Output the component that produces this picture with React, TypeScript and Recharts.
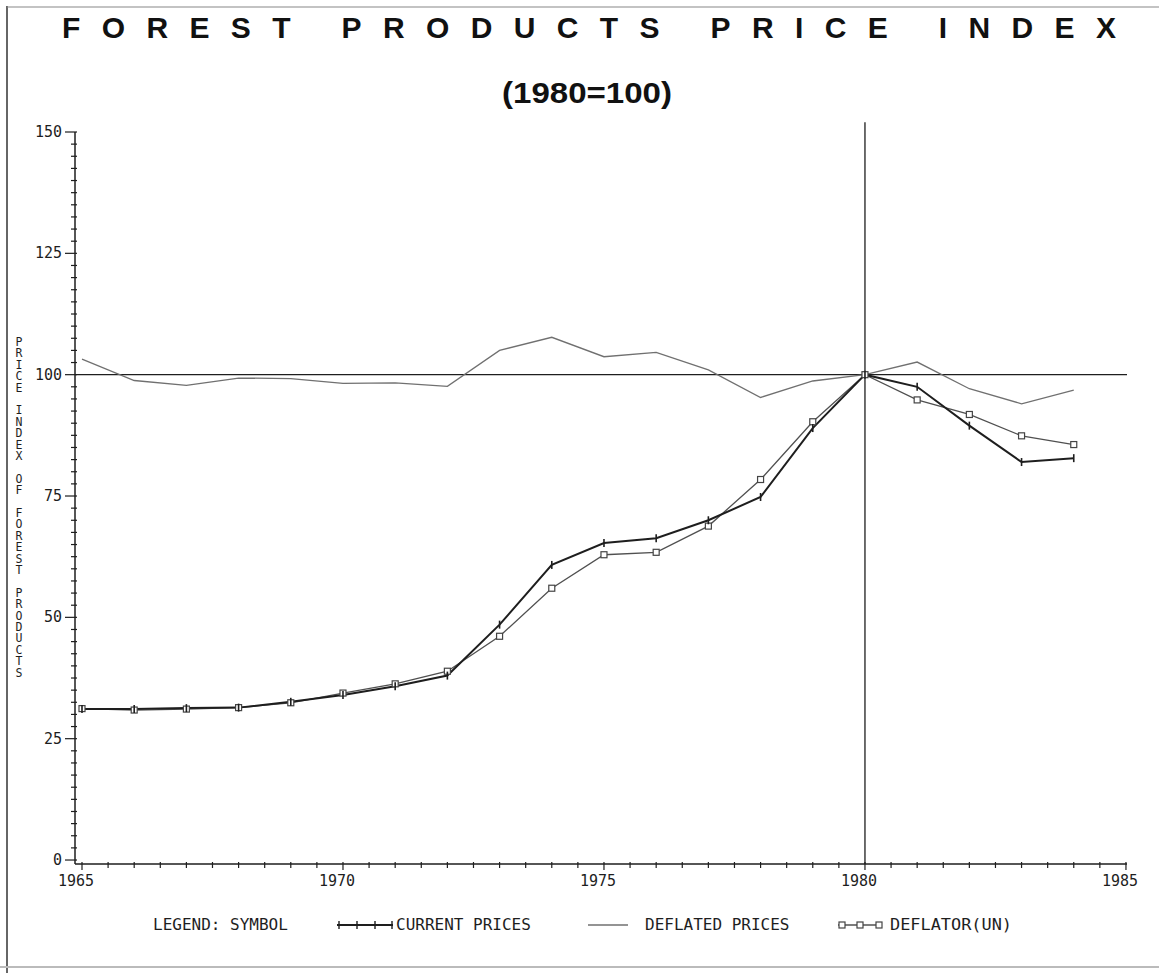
import React from 'react';
import { LineChart, Line, XAxis, YAxis, ReferenceLine } from 'recharts';

// annual values
const years = [1965, 1966, 1967, 1968, 1969, 1970, 1971, 1972, 1973, 1974, 1975, 1976, 1977, 1978, 1979, 1980, 1981, 1982, 1983, 1984];
const currentPrices = [31.1, 31.1, 31.3, 31.4, 32.6, 34.0, 35.8, 38.0, 48.5, 60.8, 65.3, 66.3, 70.0, 74.8, 89.0, 100, 97.5, 89.5, 82.0, 82.8];
const deflatedPrices = [103.2, 98.8, 97.8, 99.3, 99.2, 98.2, 98.3, 97.6, 105.0, 107.7, 103.7, 104.6, 101.0, 95.3, 98.7, 100, 102.6, 97.1, 94.0, 96.8];
const deflatorUN = [31.2, 30.9, 31.1, 31.4, 32.4, 34.4, 36.3, 38.9, 46.1, 56.0, 62.9, 63.4, 68.8, 78.4, 90.3, 100, 94.8, 91.8, 87.4, 85.6];

const yTicks = Array.from({ length: 61 }, (_, i) => i * 2.5);
const xTicks = Array.from({ length: 41 }, (_, i) => 1965 + i * 0.5);

const titleText = 'FOREST PRODUCTS PRICE INDEX';
const subtitleText = '(1980=100)';
const yLabelText = 'PRICE INDEX OF FOREST PRODUCTS';

const data = years.map((year, i) => ({
  year,
  current: currentPrices[i],
  deflated: deflatedPrices[i],
  deflator: deflatorUN[i],
}));

const mono = '"DejaVu Sans Mono", monospace';
const ink = '#1e1e1e';

const YTick = (props: any) => {
  const { x, y, payload } = props;
  const v = payload.value;
  const major = v % 25 === 0;
  return (
    <g>
      <line x1={major ? x - 10 : x - 4} x2={x + 2} y1={y} y2={y} stroke={ink} strokeWidth={1.2} />
      {major && (
        <text x={x - 13} y={y} dy={5} textAnchor="end" fontSize={15} fontFamily={mono} fill={ink}>
          {v}
        </text>
      )}
    </g>
  );
};

const XTick = (props: any) => {
  const { x, y, payload } = props;
  const v = payload.value;
  const major = v % 5 === 0;
  return (
    <g>
      <line x1={x} x2={x} y1={y - 2} y2={y + (major ? 6 : 4)} stroke={ink} strokeWidth={1.2} />
      {major && (
        <text x={x - 6} y={y + 22} textAnchor="middle" fontSize={15} fontFamily={mono} fill={ink}>
          {v}
        </text>
      )}
    </g>
  );
};

const PlusDot = (props: any) => {
  const { cx, cy, index } = props;
  return <line key={'c' + index} x1={cx} x2={cx} y1={cy - 4} y2={cy + 4} stroke={ink} strokeWidth={1.6} />;
};

const SquareDot = (props: any) => {
  const { cx, cy, index } = props;
  return <rect key={'d' + index} x={cx - 3} y={cy - 3} width={6} height={6} fill="#fff" stroke="#444" strokeWidth={1.2} />;
};

export default function App() {
  return (
    <div style={{ position: 'absolute', left: 0, top: 0, width: 1159, height: 973, background: '#fff' }}>
      <LineChart
        width={1159}
        height={973}
        data={data}
        margin={{ top: 132, right: 32, left: 0, bottom: 79 }}
      >
        <XAxis
          dataKey="year"
          type="number"
          domain={[1964.866, 1985.02]}
          ticks={xTicks}
          interval={0}
          tickSize={0}
          tickMargin={0}
          height={30}
          tick={<XTick />}
          axisLine={{ stroke: ink, strokeWidth: 1.5 }}
          tickLine={false}
        />
        <YAxis
          type="number"
          domain={[-0.82, 150]}
          ticks={yTicks}
          interval={0}
          tickSize={0}
          tickMargin={0}
          width={75}
          tick={<YTick />}
          axisLine={{ stroke: ink, strokeWidth: 1.5 }}
          tickLine={false}
        />
        <ReferenceLine y={100} stroke={ink} strokeWidth={1.3} />
        <ReferenceLine
          segment={[{ x: 1980, y: -0.82 }, { x: 1980, y: 152 }]}
          stroke={ink}
          strokeWidth={1.3}
          ifOverflow="visible"
        />
        <Line
          dataKey="deflated"
          stroke="#707070"
          strokeWidth={1.3}
          dot={false}
          isAnimationActive={false}
        />
        <Line
          dataKey="deflator"
          stroke="#505050"
          strokeWidth={1.3}
          dot={<SquareDot />}
          isAnimationActive={false}
        />
        <Line
          dataKey="current"
          stroke={ink}
          strokeWidth={2}
          dot={<PlusDot />}
          isAnimationActive={false}
        />
      </LineChart>

      {/* stacked upright axis title */}
      <div
        style={{
          position: 'absolute',
          left: 12,
          top: 335,
          writingMode: 'vertical-rl',
          textOrientation: 'upright',
          fontFamily: mono,
          fontSize: 11.5,
          letterSpacing: -2.6,
          lineHeight: '13px',
          color: ink,
          whiteSpace: 'pre',
        }}
      >
        {yLabelText}
      </div>

      <svg
        width={1159}
        height={973}
        style={{ position: 'absolute', left: 0, top: 0, pointerEvents: 'none' }}
      >
        {/* scan frame */}
        <line x1={7} x2={7} y1={6} y2={973} stroke="#333" strokeWidth={1.5} />
        <line x1={7} x2={1159} y1={7} y2={7} stroke="#888" strokeWidth={1.2} />
        <line x1={0} x2={1159} y1={967} y2={967} stroke="#bbb" strokeWidth={2} />

        <text
          x={62}
          y={38}
          fontSize={30}
          fontWeight="bold"
          fontFamily='"Liberation Sans", Arial, sans-serif'
          fill="#111"
          textLength={1054}
          lengthAdjust="spacing"
        >
          {titleText}
        </text>
        <text
          x={502}
          y={103}
          fontSize={29}
          fontWeight="bold"
          fontFamily='"Liberation Sans", Arial, sans-serif'
          fill="#111"
          textLength={170}
          lengthAdjust="spacingAndGlyphs"
        >
          {subtitleText}
        </text>

        {/* legend */}
        <g fontSize={16} fontFamily={mono} fill={ink}>
          <text x={153} y={930}>LEGEND: SYMBOL</text>

          <line x1={337} x2={393} y1={925} y2={925} stroke={ink} strokeWidth={2} />
          {[339, 357, 375, 392].map((px) => (
            <line key={px} x1={px} x2={px} y1={921} y2={929} stroke={ink} strokeWidth={1.4} />
          ))}
          <text x={396} y={930}>CURRENT PRICES</text>

          <line x1={588} x2={628} y1={925} y2={925} stroke="#707070" strokeWidth={1.3} />
          <text x={645} y={930}>DEFLATED PRICES</text>

          <line x1={838} x2={882} y1={925} y2={925} stroke="#505050" strokeWidth={1.3} />
          {[842, 860, 879].map((px) => (
            <rect key={px} x={px - 3} y={922} width={6} height={6} fill="#fff" stroke="#444" strokeWidth={1.2} />
          ))}
          <text x={890} y={930} textLength={122} lengthAdjust="spacingAndGlyphs">DEFLATOR(UN)</text>
        </g>
      </svg>
    </div>
  );
}
